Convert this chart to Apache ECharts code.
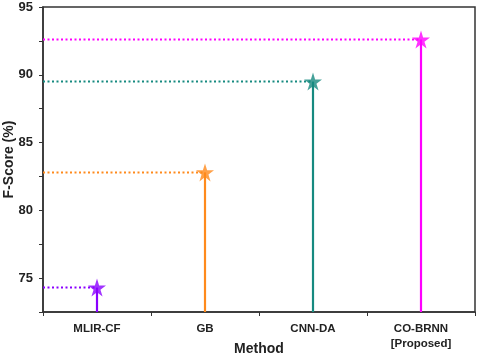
<!DOCTYPE html>
<html>
<head>
<meta charset="utf-8">
<script src="https://cdn.jsdelivr.net/npm/echarts@6/dist/echarts.min.js"></script>
<style>
  html, body { margin: 0; padding: 0; background: #fff; }
  #chart { width: 480px; height: 358px; }
</style>
</head>
<body>
<div id="chart"></div>
<script>
// data
const methods = ['MLIR-CF', 'GB', 'CNN-DA', 'CO-BRNN\n[Proposed]'];
const fScore = [74.3, 82.8, 89.5, 92.6];
const colors = ['#8a00ff', '#ff8a1c', '#168a80', '#ff00ff'];

const starPath = 'path://M50,0 L61.2,34.5 L97.6,34.5 L68.2,55.9 L79.4,90.5 L50,69.1 L20.6,90.5 L31.8,55.9 L2.4,34.5 L38.8,34.5 Z';

const chart = echarts.init(document.getElementById('chart'));

const labelFont = { fontFamily: 'Liberation Sans, Arial', fontWeight: 'bold', color: '#222' };

const options = {
    animation: false,
    grid: {
        left: 43,
        right: 5,
        top: 7,
        bottom: 46,
        containLabel: false,
        outerBoundsMode: 'none',
        show: true,
        borderColor: '#333',
        borderWidth: 1.5
    },
    xAxis: {
        type: 'category',
        data: methods,
        boundaryGap: true,
        name: 'Method',
        nameLocation: 'middle',
        nameGap: 37,
        nameMoveOverlap: false,
        nameTextStyle: Object.assign({ fontSize: 14, verticalAlign: 'middle' }, labelFont),
        axisLine: { lineStyle: { color: '#333', width: 1.5 } },
        axisTick: { show: true, inside: false, length: 4, lineStyle: { color: '#333' } },
        axisLabel: Object.assign({ fontSize: 11.5, margin: 9, lineHeight: 15 }, labelFont),
        splitLine: { show: false }
    },
    yAxis: {
        type: 'value',
        min: 72.5,
        max: 95,
        interval: 2.5,
        name: 'F-Score (%)',
        nameLocation: 'middle',
        nameGap: 34,
        nameMoveOverlap: false,
        nameTextStyle: Object.assign({ fontSize: 14, verticalAlign: 'middle' }, labelFont),
        axisLine: { show: true, lineStyle: { color: '#333', width: 1.5 } },
        axisTick: { show: true, length: 4, lineStyle: { color: '#333' } },
        axisLabel: Object.assign({
            fontSize: 13,
            margin: 10,
            formatter: function (v) {
                return v % 5 === 0 ? String(v) : '';
            }
        }, labelFont),
        splitLine: { show: false }
    },
    series: [
        {
            // stems and dotted guide lines
            type: 'custom',
            data: fScore.map(function (v, i) { return [i, v]; }),
            renderItem: function (params, api) {
                const cs = params.coordSys;
                const p = api.coord([api.value(0), api.value(1)]);
                const c = colors[params.dataIndex];
                return {
                    type: 'group',
                    children: [
                        {
                            type: 'line',
                            shape: { x1: p[0], y1: cs.y + cs.height, x2: p[0], y2: p[1] },
                            style: { stroke: c, lineWidth: 2.2 }
                        },
                        {
                            type: 'line',
                            shape: { x1: cs.x, y1: p[1], x2: p[0], y2: p[1] },
                            style: { stroke: c, lineWidth: 2, lineDash: [2, 2.5] }
                        }
                    ]
                };
            },
            z: 2
        },
        {
            type: 'scatter',
            data: fScore.map(function (v, i) { return [i, v]; }),
            symbol: starPath,
            symbolSize: 18,
            itemStyle: {
                color: function (p) { return colors[p.dataIndex]; }
            },
            z: 3
        }
    ]
};

chart.setOption(options);
</script>
</body>
</html>
